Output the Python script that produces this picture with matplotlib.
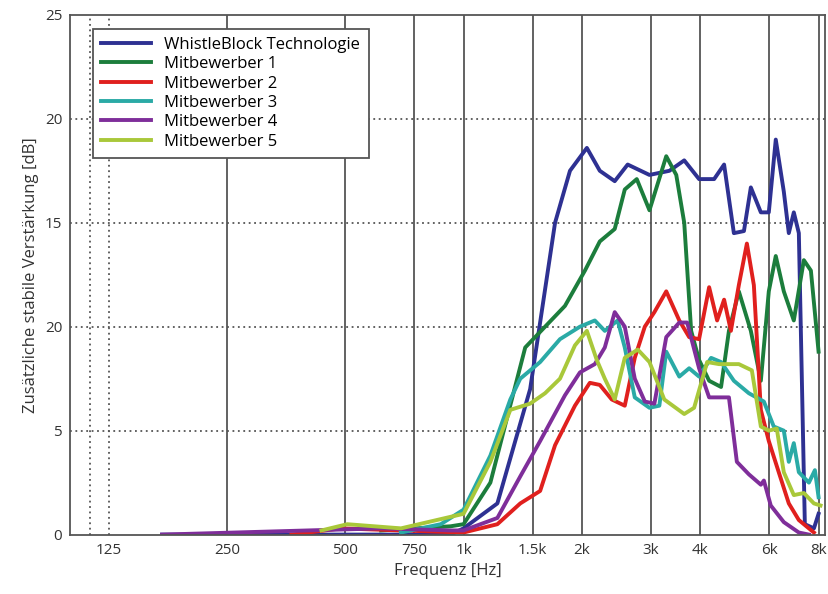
import matplotlib
matplotlib.use("Agg")
import matplotlib.pyplot as plt
import numpy as np

plt.rcParams['font.family'] = ['Open Sans', 'DejaVu Sans']

f_blue = [171,927,1000,1219,1477,1709,1865,2059,2221,2424,2615,2971,3340,3642,3973,4339,4600,4871,5167,5380,5705,5977,6226,6526,6720,6920,7127,7382,7785,8000]
v_blue = [0,0,0.3,1.5,7,15,17.5,18.6,17.5,17,17.8,17.3,17.5,18,17.1,17.1,17.8,14.5,14.6,16.7,15.5,15.5,19,16.5,14.5,15.5,14.5,0.5,0.3,1]

f_green = [617,927,1000,1170,1435,1612,1811,2036,2221,2424,2571,2758,2971,3278,3476,3642,3793,3973,4214,4519,4732,5015,5380,5705,5977,6226,6526,6920,7339,7648,8000]
v_green = [0.2,0.4,0.5,2.5,9,10,11,12.7,14.1,14.7,16.6,17.1,15.6,18.2,17.3,15,9.8,8.4,7.4,7.1,9.8,11.7,9.8,7.4,11.7,13.4,11.7,10.3,13.2,12.7,8.8]

f_red = [365,489,693,1000,1219,1394,1566,1709,1920,2095,2221,2382,2571,2726,2891,3058,3278,3538,3749,3973,4214,4416,4600,4787,5015,5257,5476,5705,5977,6336,6720,7127,7785]
v_red = [0,0.3,0.2,0.1,0.5,1.5,2.1,4.3,6.2,7.3,7.2,6.5,6.2,8.5,10,10.7,11.7,10.3,9.5,9.4,11.9,10.3,11.3,9.8,12,14,12,6,4.5,3,1.5,0.7,0.1]

f_teal = [693,875,1000,1170,1315,1394,1566,1759,1977,2157,2287,2466,2571,2726,2971,3148,3278,3538,3749,3973,4263,4519,4871,5318,5807,6153,6526,6720,6920,7127,7560,7830,8000]
v_teal = [0.1,0.5,1.2,3.8,6.5,7.5,8.3,9.4,10,10.3,9.8,10.3,9,6.6,6.1,6.2,8.8,7.6,8,7.6,8.5,8.3,7.4,6.8,6.4,5.2,5,3.5,4.4,3,2.5,3.1,1.8]

f_purple = [171,617,927,1000,1219,1394,1566,1811,1977,2157,2287,2424,2571,2726,2891,3058,3278,3538,3706,3973,4214,4467,4732,4957,5318,5705,5807,6046,6526,7127,7560]
v_purple = [0,0.3,0.2,0.2,0.8,2.8,4.5,6.7,7.8,8.2,9,10.7,10,7.5,6.4,6.3,9.5,10.2,10.2,8,6.6,6.6,6.6,3.5,2.9,2.4,2.6,1.4,0.6,0.1,0]

f_yg = [435,506,693,1000,1170,1315,1477,1612,1759,1920,2059,2182,2287,2424,2571,2774,2971,3240,3642,3859,4166,4467,5015,5412,5705,5977,6262,6526,6920,7339,7785,8093]
v_yg = [0.2,0.5,0.3,1.0,3.5,6,6.3,6.8,7.5,9.1,9.8,8.4,7.5,6.5,8.5,8.9,8.3,6.5,5.8,6.1,8.3,8.2,8.2,7.9,5.2,5,5.1,3,1.9,2,1.5,1.4]

series = [
    ("WhistleBlock Technologie", f_blue, v_blue, "#2e3192"),
    ("Mitbewerber 1", f_green, v_green, "#1c7d3c"),
    ("Mitbewerber 2", f_red, v_red, "#e0201e"),
    ("Mitbewerber 3", f_teal, v_teal, "#2aaaa6"),
    ("Mitbewerber 4", f_purple, v_purple, "#7f2e9a"),
    ("Mitbewerber 5", f_yg, v_yg, "#a9c83a"),
]

xticks = [125, 250, 500, 750, 1000, 1500, 2000, 3000, 4000, 6000, 8000]
xlabels = ["125", "250", "500", "750", "1k", "1.5k", "2k", "3k", "4k", "6k", "8k"]
yticks = [0, 5, 10, 15, 20, 25]
ylabels = ["0", "5", "20", "15", "20", "25"]

fig = plt.figure(figsize=(8.29, 5.94), dpi=100)
ax = fig.add_axes([0.085, 0.1, 0.91, 0.875])
ax.set_xscale('log')
ax.set_xlim(100, 8300)
ax.set_ylim(0, 25)

for x in [250, 500, 750, 1000, 1500, 2000, 3000, 4000, 6000, 8000]:
    ax.axvline(x, color="#555555", lw=1.3, zorder=0)
for x in [112, 125]:
    ax.axvline(x, color="#555555", lw=1.3, ls=(0, (1, 2)), zorder=0)
for y in [5, 10, 15, 20]:
    ax.axhline(y, color="#555555", lw=1.3, ls=(0, (1, 2)), zorder=0)

for name, f, v, c in series:
    ax.plot(f, v, color=c, lw=2.8, label=name, solid_joinstyle='round')

ax.set_xticks(xticks)
ax.set_xticklabels(xlabels)
ax.minorticks_off()
ax.set_yticks(yticks)
ax.set_yticklabels(ylabels)
ax.tick_params(length=0, labelsize=11, colors="#333333", pad=6)
for s in ax.spines.values():
    s.set_color("#555555")
    s.set_linewidth(1.3)
ax.set_xlabel("Frequenz [Hz]", fontsize=12, color="#333333")
ax.set_ylabel("Zusätzliche stabile Verstärkung [dB]", fontsize=12, color="#333333")
leg = ax.legend(loc="upper left", bbox_to_anchor=(0.025, 0.98), fontsize=12,
                fancybox=False, framealpha=1, edgecolor="#555555",
                handlelength=3.0, labelspacing=0.2, borderpad=0.5, borderaxespad=0.2)
leg.get_frame().set_linewidth(1.3)
fig.savefig("out.png", dpi=100)
